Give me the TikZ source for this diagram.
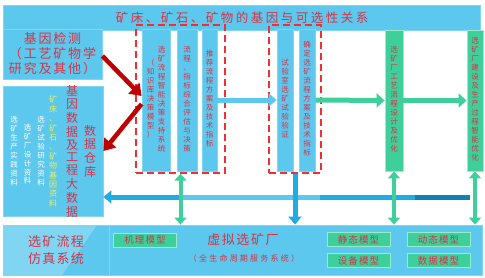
\documentclass[tikz,border=0pt]{standalone}
\usepackage{fontspec}
\setmainfont{Noto Sans CJK SC}
\usepackage{tikz}
\usetikzlibrary{arrows.meta,calc,positioning}
\usepackage{xcolor}
\definecolor{mapblue}{RGB}{93,200,237}
\definecolor{mapblueL}{RGB}{128,213,243}
\definecolor{mapgreen}{RGB}{63,207,154}
\definecolor{mapgreenL}{RGB}{150,235,200}
\definecolor{maptext}{RGB}{216,50,70}
\definecolor{mapyellow}{RGB}{232,240,90}
\definecolor{mapdarkred}{RGB}{192,0,0}
\definecolor{mapdash}{RGB}{238,48,52}
\definecolor{mapbusA}{RGB}{30,172,226}
\definecolor{mapbusB}{RGB}{20,128,178}

\newcommand\vsacc{}
\newcommand\vstack[1]{\def\vsacc{}\vsgo#1\relax\begin{tabular}{@{}c@{}}\vsacc\end{tabular}}
\def\vsgo#1{\ifx#1\relax\else%
  \ifx\vsacc\empty\def\vsacc{#1}\else\expandafter\def\expandafter\vsacc\expandafter{\vsacc\\#1}\fi%
  \expandafter\vsgo\fi}

\tikzset{
  bluebox/.style={rectangle,fill=mapblue,draw=mapblueL,line width=0.8pt,inner sep=0pt,text=maptext},
  bluecol/.style={bluebox,minimum height=142pt,font=\fontsize{7.5}{9}\selectfont},
  greencol/.style={rectangle,fill=mapgreen,draw=mapgreenL,line width=0.8pt,inner sep=0pt,
    text=maptext,minimum height=141pt,font=\fontsize{7.5}{9}\selectfont},
  dashgrp/.style={rectangle,draw=mapdash,line width=1.4pt,dash pattern=on 7pt off 4pt,minimum height=148pt},
  vtxt/.style={inner sep=0pt},
  modeltag/.style={rectangle,fill=mapgreen,draw=mapgreenL,line width=1pt,inner sep=0pt,
    minimum width=63pt,minimum height=14pt,text=maptext,
    font=\fontsize{9.5}{10}\selectfont\addfontfeature{LetterSpace=12}},
  redarrow/.style={draw=mapdarkred,line width=4.5pt,-{Triangle[length=11pt,width=15pt]}},
  bluearrow/.style={draw=mapblue,line width=5pt,-{Triangle[length=8pt,width=13pt]}},
  greenarrow/.style={draw=mapgreen,line width=5pt,-{Triangle[length=8pt,width=14pt]}},
  greendbl/.style={draw=mapgreen,line width=4pt,{Triangle[length=7pt,width=12pt]}-{Triangle[length=7pt,width=12pt]}},
  bluedown/.style={draw=mapbusA,line width=5pt,-{Triangle[length=8pt,width=13pt]}},
  busline/.style={draw=mapbusA,line width=5pt,-{Triangle[length=8pt,width=13pt]}}
}

\begin{document}
\begin{tikzpicture}[x=1pt,y=-1pt,>=Latex]
\useasboundingbox (0,0) rectangle (485,277);

\node[bluebox,minimum width=477pt,minimum height=25pt,
  font=\fontsize{12.5}{14}\selectfont\addfontfeature{LetterSpace=20}] (title) at (242,17.5)
  {矿床、矿石、矿物的基因与可选性关系};

% left side
\node[bluebox,minimum width=99pt,minimum height=50pt,align=center,
  font=\fontsize{13}{15}\selectfont\addfontfeature{LetterSpace=14}] (detect) at (52.5,54)
  {基因检测\\（工艺矿物学\\研究及其他）};
\node[bluebox,minimum width=100pt,minimum height=130pt] (store) at (53,151) {};
\node[vtxt,text=maptext,font=\fontsize{12}{12.1}\selectfont] (storeA) at (72,152.5) {\vstack{基因数据及工程大数据}};
\node[vtxt,text=maptext,font=\fontsize{12}{12.3}\selectfont] (storeB) at (90,152.5) {\vstack{数据仓库}};
\node[vtxt,text=mapyellow,font=\fontsize{8}{9.2}\selectfont] (storeC) at (53,152.5) {\vstack{矿床、矿石、矿物基因资料}};
\node[vtxt,text=white,font=\fontsize{7.5}{8.8}\selectfont] (storeD) at (41,152) {\vstack{选矿试验研究资料}};
\node[vtxt,text=white,font=\fontsize{7.5}{8.8}\selectfont] (storeE) at (27.5,155.5) {\vstack{选矿厂设计资料}};
\node[vtxt,text=white,font=\fontsize{7.5}{8.8}\selectfont] (storeF) at (14,152) {\vstack{选矿生产实践资料}};

% decision columns
\node[dashgrp,minimum width=89pt] (grpA) at (180.5,99) {};
\node[dashgrp,minimum width=52pt] (grpB) at (295,99) {};
\node[bluecol,minimum width=28pt] (colA) at (156,100)
  {\vstack{（知识库决策模型）}\hspace{3.5pt}\vstack{选矿流程智能决策支持系统}};
\node[bluecol,minimum width=20pt] (colB) at (187,100) {\vstack{流程、指标综合评估与决策}};
\node[bluecol,minimum width=15pt] (colC) at (209.5,100) {\vstack{推荐流程方案及技术指标}};
\node[bluecol,minimum width=16pt] (colD) at (285,100) {\vstack{试验室选矿试验验证}};
\node[bluecol,minimum width=16pt] (colE) at (307,100) {\vstack{确定选矿流程方案及技术指标}};
\node[greencol,minimum width=18pt] (colF) at (394,100.5) {\vstack{选矿厂工艺流程设计及优化}};
\node[greencol,minimum width=16pt] (colG) at (475,100.5) {\vstack{选矿厂建设及生产过程智能优化}};

% simulation system
\node[bluebox,minimum width=106pt,minimum height=50pt,align=center,
  path picture={\fill[mapblueL] (path picture bounding box.north west)
    -- ($(path picture bounding box.north west)+(94,0)$)
    -- ($(path picture bounding box.south west)+(59,0)$)
    -- (path picture bounding box.south west) -- cycle;},
  font=\fontsize{13}{17}\selectfont\addfontfeature{LetterSpace=10}] (simsys) at (56,250)
  {选矿流程\\仿真系统};
\node[bluebox,minimum width=373pt,minimum height=50pt] (vplant) at (295.5,250) {};
\node[vtxt,text=maptext,font=\fontsize{13}{14}\selectfont\addfontfeature{LetterSpace=12}] (vname) at (243,240) {虚拟选矿厂};
\node[vtxt,text=maptext,font=\fontsize{8}{9}\selectfont\addfontfeature{LetterSpace=28}] (vsub) at (244,258) {（全生命周期服务系统）};
\foreach \nm/\px/\py/\tx in {tagA/145/240/机理模型,tagB/358.5/239.5/静态模型,tagC/438.5/239.5/动态模型,
  tagD/358.5/260.5/设备模型,tagE/438.5/260.5/数据模型}
  \node[modeltag] (\nm) at (\px,\py) {\tx};

% connectors
\draw[redarrow] ([yshift=-2pt]detect.east) -- ([yshift=4pt]colA.west);
\draw[redarrow] ([yshift=-4pt]colA.west) -- (store.east);
\draw[bluearrow] (colC.east) -- (colD.west);
\draw[greenarrow] (colE.east) -- (colF.west);
\draw[greenarrow] (colF.east) -- (colG.west);

\coordinate (busR) at (470,197);
\draw[busline] (busR) -- (store.east |- busR);
\draw[mapblue,line width=5pt] (182,197) -- (320,197);
\draw[mapbusB,line width=5pt] (415,197) -- (busR);

\draw[greendbl] (grpA.south) -- (grpA.south |- vplant.north);
\draw[bluedown] (grpB.south) -- (grpB.south |- vplant.north);
\draw[greendbl] (colF.south) -- (colF.south |- vplant.north);
\draw[greendbl] (colG.south) -- (colG.south |- vplant.north);
\end{tikzpicture}
\end{document}
